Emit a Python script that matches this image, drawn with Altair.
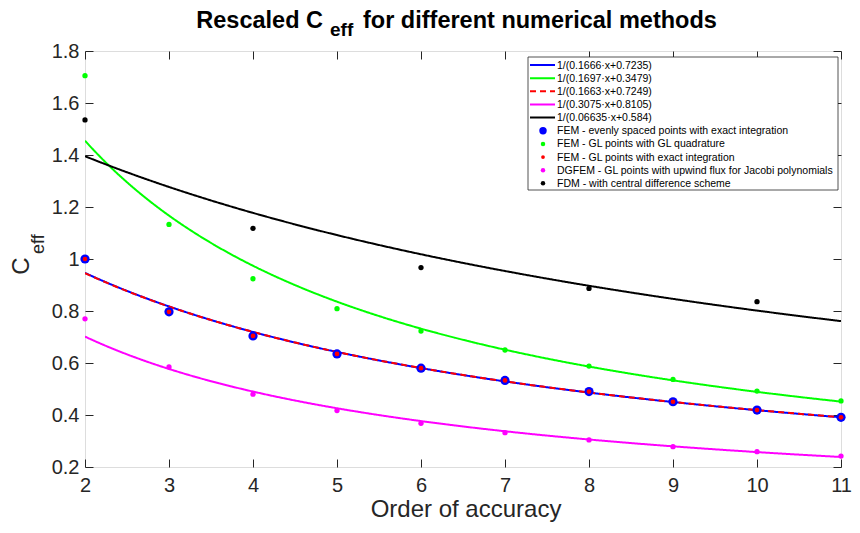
import altair as alt
import numpy as np
import pandas as pd

# ---------------- data ----------------
orders = [2, 3, 4, 5, 6, 7, 8, 9, 10, 11]
fem_even = [1.000, 0.797, 0.704, 0.635, 0.580, 0.533, 0.490, 0.451, 0.419, 0.391]
fem_gl_glq = [1.705, 1.133, 0.924, 0.809, 0.723, 0.650, 0.588, 0.537, 0.492, 0.454]
fem_gl_exact = [1.000, 0.797, 0.704, 0.635, 0.580, 0.533, 0.490, 0.451, 0.419, 0.391]
dgfem = [0.770, 0.585, 0.480, 0.417, 0.368, 0.332, 0.304, 0.278, 0.259, 0.242]
fdm_orders = [2, 4, 6, 8, 10]
fdm = [1.535, 1.118, 0.967, 0.887, 0.836]

# fitted curves C = 1/(a*x + b), coefficients as printed in the legend
fit_a = [0.1666, 0.1697, 0.1663, 0.3075, 0.06635]
fit_b = [0.7235, 0.3479, 0.7249, 0.8105, 0.584]
fit_labels = ["1/(0.1666·x+0.7235)", "1/(0.1697·x+0.3479)", "1/(0.1663·x+0.7249)",
              "1/(0.3075·x+0.8105)", "1/(0.06635·x+0.584)"]
point_labels = ["FEM - evenly spaced points with exact integration",
                "FEM - GL points with GL quadrature",
                "FEM - GL points with exact integration",
                "DGFEM - GL points with upwind flux for Jacobi polynomials",
                "FDM - with central difference scheme"]

line_colors = ["#0000FF", "#00FF00", "#FF0000", "#FF00FF", "#000000"]
line_dash = [[1, 0], [1, 0], [6, 4], [1, 0], [1, 0]]
point_colors = ["#0000FF", "#00FF00", "#FF0000", "#FF00FF", "#000000"]
point_sizes = [85, 28, 22, 28, 28]
legend_point_sizes = [55, 20, 14, 20, 20]

W, H = 756, 416
FONT = "Liberation Sans"
AX = "#262626"
DX = 2  # shift of decorations relative to the plot origin

xs = alt.Scale(domain=[2, 11], nice=False, zero=False)
ys = alt.Scale(domain=[0.2, 1.8], nice=False, zero=False)
yvals = [0.2, 0.4, 0.6, 0.8, 1.0, 1.2, 1.4, 1.6, 1.8]

ax_common = dict(offset=-8, domain=False, tickSize=8, tickColor=AX, tickWidth=1,
                 grid=False, title=None, labelFont=FONT, labelFontSize=20,
                 labelColor=AX, labelFlush=False, labelOverlap=False)
ax_bottom = alt.Axis(orient="bottom", values=orders, labelPadding=8, **ax_common)
ax_left = alt.Axis(orient="left", values=yvals, format=".1~f", labelPadding=6, **ax_common)
ax_top = alt.Axis(orient="top", values=orders, labels=False, **ax_common)
ax_right = alt.Axis(orient="right", values=yvals, labels=False, **ax_common)

one = pd.DataFrame({"k": [0]})

layers = []

# fitted curves
xx = np.linspace(2, 11, 181)
for i in range(5):
    df = pd.DataFrame({"x": xx, "y": 1.0 / (fit_a[i] * xx + fit_b[i])})
    if i == 0:
        xa, ya = ax_bottom, ax_left
    elif i == 1:
        xa, ya = ax_top, ax_right
    else:
        xa, ya = None, None
    layers.append(
        alt.Chart(df).mark_line(color=line_colors[i], strokeWidth=2,
                                strokeDash=line_dash[i], clip=True)
        .encode(x=alt.X("x:Q", scale=xs, axis=xa), y=alt.Y("y:Q", scale=ys, axis=ya))
    )

# scatter points
series = [(orders, fem_even), (orders, fem_gl_glq), (orders, fem_gl_exact),
          (orders, dgfem), (fdm_orders, fdm)]
draw_order = [0, 1, 3, 4, 2]
for i in draw_order:
    xo, yv = series[i]
    df = pd.DataFrame({"x": xo, "y": yv})
    layers.append(
        alt.Chart(df).mark_circle(color=point_colors[i], size=point_sizes[i], opacity=1)
        .encode(x=alt.X("x:Q", scale=xs, axis=None), y=alt.Y("y:Q", scale=ys, axis=None))
    )

# ---------------- legend (drawn manually) ----------------
LX0, LX1, LY0, LY1 = 441 + DX, 753, 6, 139
layers.append(
    alt.Chart(one).mark_rect(fill="white", stroke=AX, strokeWidth=0.8)
    .encode(x=alt.value(LX0), x2=alt.value(LX1), y=alt.value(LY0), y2=alt.value(LY1))
)
row_y = [14 + 13.15 * r for r in range(10)]
for i in range(5):
    y = row_y[i]
    layers.append(
        alt.Chart(one).mark_rule(color=line_colors[i], strokeWidth=2, strokeDash=line_dash[i])
        .encode(x=alt.value(443 + DX), x2=alt.value(468 + DX), y=alt.value(y))
    )
    layers.append(
        alt.Chart(one).mark_text(align="left", baseline="middle", font=FONT,
                                 fontSize=10.5, color="#000000")
        .encode(x=alt.value(470 + DX), y=alt.value(y + 0.5), text=alt.value(fit_labels[i]))
    )
for i in range(5):
    y = row_y[5 + i]
    layers.append(
        alt.Chart(one).mark_circle(color=point_colors[i], size=legend_point_sizes[i], opacity=1)
        .encode(x=alt.value(456 + DX), y=alt.value(y))
    )
    layers.append(
        alt.Chart(one).mark_text(align="left", baseline="middle", font=FONT,
                                 fontSize=10.5, color="#000000")
        .encode(x=alt.value(470 + DX), y=alt.value(y + 0.5), text=alt.value(point_labels[i]))
    )

# ---------------- title with subscript ----------------
def txt(s, x, y, size, weight="normal", align="left", angle=0, color="#000000"):
    props = dict(align=align, baseline="alphabetic", font=FONT, fontSize=size,
                 fontWeight=weight, color=color)
    if angle:
        props["angle"] = angle
    return (alt.Chart(one).mark_text(**props)
            .encode(x=alt.value(x), y=alt.value(y), text=alt.value(s)))

layers.append(txt("Rescaled C", 236 + DX, -23, 23.5, "bold", "right"))
layers.append(txt("eff", 243 + DX, -15, 19, "bold", "left"))
layers.append(txt("for different numerical methods", 276 + DX, -23, 23.5, "bold", "left"))

# y-axis title C_eff (rotated)
layers.append(txt("C", -58 + DX, 215, 24, "normal", "center", 270, AX))
layers.append(txt("eff", -43 + DX, 203, 18, "normal", "left", 270, AX))

# x-axis title
layers.append(txt("Order of accuracy", 379 + DX, 466, 24, "normal", "center", 0, AX))

chart = (
    alt.layer(*layers)
    .resolve_axis(x="independent", y="independent")
    .properties(width=W, height=H,
                autosize=alt.AutoSizeParams(type="none"),
                padding={"left": 77, "top": 43, "right": 11, "bottom": 56})
    .configure_view(stroke=AX, strokeWidth=1)
    .configure(background="white")
)

chart.save("out.html", embed_options={"renderer": "svg", "actions": False})
